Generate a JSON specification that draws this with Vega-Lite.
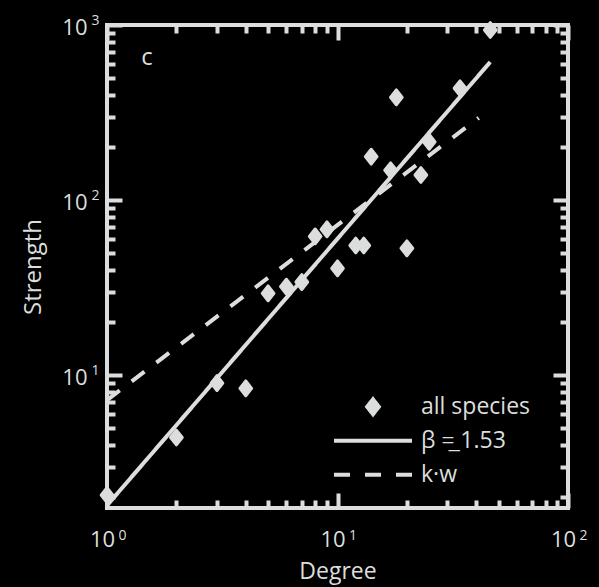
{
  "$schema": "https://vega.github.io/schema/vega-lite/v6.json",
  "width": 461,
  "height": 483,
  "autosize": {"type": "none"},
  "padding": {"left": 107, "top": 25, "right": 31, "bottom": 79},
  "background": "#000000",
  "config": {
    "view": {"stroke": "#dcdedd", "strokeWidth": 4},
    "font": "Open Sans",
    "axis": {"domain": false, "grid": false, "labelFont": "Open Sans", "labelFontSize": 22, "labelColor": "#dcdedd", "titleFont": "Open Sans", "titleFontSize": 24, "titleFontWeight": "normal", "titleColor": "#dcdedd", "tickColor": "#dcdedd", "tickWidth": 4, "labelOverlap": false, "labelFlush": false, "labelBound": false},
    "legend": {"orient": "none", "legendX": 225, "legendY": 365, "labelFont": "Open Sans", "labelFontSize": 23, "labelColor": "#dcdedd", "symbolSize": 6084, "clipHeight": 33.5, "symbolStrokeWidth": 4, "symbolFillColor": "#dcdedd", "symbolStrokeColor": "#dcdedd", "labelOffset": 7, "rowPadding": 0, "padding": 0, "title": null}
  },
  "datasets": {
    "species": [
      {"series": "all species", "degree": 1, "strength": 2.06},
      {"series": "all species", "degree": 2, "strength": 4.4},
      {"series": "all species", "degree": 3, "strength": 9.0},
      {"series": "all species", "degree": 4, "strength": 8.4},
      {"series": "all species", "degree": 5, "strength": 29.3},
      {"series": "all species", "degree": 6, "strength": 32},
      {"series": "all species", "degree": 7, "strength": 34},
      {"series": "all species", "degree": 8, "strength": 62},
      {"series": "all species", "degree": 9, "strength": 68},
      {"series": "all species", "degree": 10, "strength": 40.7},
      {"series": "all species", "degree": 12, "strength": 55},
      {"series": "all species", "degree": 13, "strength": 55},
      {"series": "all species", "degree": 14, "strength": 177},
      {"series": "all species", "degree": 17, "strength": 148},
      {"series": "all species", "degree": 18, "strength": 386},
      {"series": "all species", "degree": 20, "strength": 53},
      {"series": "all species", "degree": 23, "strength": 139},
      {"series": "all species", "degree": 25, "strength": 215},
      {"series": "all species", "degree": 34, "strength": 435},
      {"series": "all species", "degree": 46, "strength": 936}
    ],
    "fitBeta": [
      {"series": "β =̲ 1.53", "degree": 1, "strength": 1.8},
      {"series": "β =̲ 1.53", "degree": 46, "strength": 615}
    ],
    "fitKW": [
      {"series": "k·w", "degree": 1, "strength": 7.2},
      {"series": "k·w", "degree": 41, "strength": 295}
    ],
    "panel": [
      {"label": "c"}
    ]
  },
  "resolve": {"axis": {"x": "independent", "y": "independent"}},
  "layer": [
    {
      "data": {"name": "fitBeta"},
      "mark": {"type": "line", "color": "#dcdedd", "strokeWidth": 4, "clip": true},
      "encoding": {
        "x": {"field": "degree", "type": "quantitative", "scale": {"type": "log", "domain": [1, 100], "nice": false},
          "axis": {"orient": "top", "title": null, "labels": false, "values": [1,2,3,4,5,6,7,8,9,10,20,30,40,50,60,70,80,90,100],
            "tickSize": {"condition": {"test": "indexof([1,10,100,1000], datum.value) >= 0", "value": -15}, "value": -8}}},
        "y": {"field": "strength", "type": "quantitative", "scale": {"type": "log", "domain": [1.74, 1000], "nice": false},
          "axis": {"orient": "right", "title": null, "labels": false, "values": [2,3,4,5,6,7,8,9,10,20,30,40,50,60,70,80,90,100,200,300,400,500,600,700,800,900,1000],
            "tickSize": {"condition": {"test": "indexof([1,10,100,1000], datum.value) >= 0", "value": -15}, "value": -8}}},
        "strokeDash": {"field": "series", "type": "nominal",
          "scale": {"domain": ["all species", "β =̲ 1.53", "k·w"], "range": [[1, 0], [1, 0], [16, 15]]},
          "legend": {"title": null, "encode": {"symbols": {"update": {"stroke": {"value": "#dcdedd"}, "fill": {"value": "#dcdedd"}, "strokeWidth": {"value": 4}, "opacity": {"value": 1}}}}}}
      }
    },
    {
      "data": {"name": "fitKW"},
      "mark": {"type": "line", "color": "#dcdedd", "strokeWidth": 4, "clip": true},
      "encoding": {
        "x": {"field": "degree", "type": "quantitative",
          "axis": {"orient": "bottom", "title": null, "ticks": false, "labelFontSize": 14, "labelBaseline": "middle", "labelPadding": 27, "labelOffset": 15,
            "values": [1,10,100],
            "labelExpr": "datum.value == 1 ? '0' : datum.value == 10 ? '1' : '2'"}},
        "y": {"field": "strength", "type": "quantitative",
          "axis": {"orient": "left", "title": null, "ticks": false, "labelFontSize": 14, "labelBaseline": "middle", "labelPadding": 8, "labelOffset": -5,
            "values": [10,100,1000],
            "labelExpr": "datum.value == 10 ? '1' : datum.value == 100 ? '2' : '3'"}},
        "strokeDash": {"field": "series", "type": "nominal", "legend": {"title": null}}
      }
    },
    {
      "data": {"name": "species"},
      "mark": {"type": "point", "filled": true, "color": "#dcdedd", "size": 6084, "opacity": 1, "stroke": "#dcdedd", "strokeWidth": 3, "strokeJoin": "round"},
      "encoding": {
        "x": {"field": "degree", "type": "quantitative", "title": "Degree",
          "axis": {"orient": "bottom", "values": [1,2,3,4,5,6,7,8,9,10,20,30,40,50,60,70,80,90,100],
            "labelExpr": "indexof([1,10,100], datum.value) >= 0 ? '10' : ''",
            "labelBaseline": "middle", "labelPadding": 46, "labelOffset": -5, "titlePadding": 3, "titleFontSize": 23,
            "tickSize": {"condition": {"test": "indexof([1,10,100,1000], datum.value) >= 0", "value": -15}, "value": -8}}},
        "y": {"field": "strength", "type": "quantitative", "title": "Strength",
          "axis": {"orient": "left", "values": [2,3,4,5,6,7,8,9,10,20,30,40,50,60,70,80,90,100,200,300,400,500,600,700,800,900,1000],
            "labelExpr": "indexof([10,100,1000], datum.value) >= 0 ? '10' : ''",
            "labelBaseline": "middle", "labelPadding": 35, "labelOffset": 2, "titlePadding": 16,
            "tickSize": {"condition": {"test": "indexof([1,10,100,1000], datum.value) >= 0", "value": -15}, "value": -8}}},
        "shape": {"field": "series", "type": "nominal",
          "scale": {"domain": ["all species", "β =̲ 1.53", "k·w"], "range": ["M0,-0.19L0.15,0L0,0.19L-0.15,0Z", "stroke", "stroke"]},
          "legend": {"title": null, "encode": {"symbols": {"update": {"stroke": {"value": "#dcdedd"}, "fill": {"value": "#dcdedd"}, "strokeWidth": {"value": 4}, "opacity": {"value": 1}}}}}}
      }
    },
    {
      "data": {"name": "panel"},
      "mark": {"type": "text", "color": "#dcdedd", "font": "Open Sans", "fontSize": 24, "align": "center", "baseline": "middle"},
      "encoding": {
        "x": {"datum": 1.49, "type": "quantitative", "axis": null},
        "y": {"datum": 650, "type": "quantitative", "axis": null},
        "text": {"field": "label", "type": "nominal"}
      }
    }
  ]
}
